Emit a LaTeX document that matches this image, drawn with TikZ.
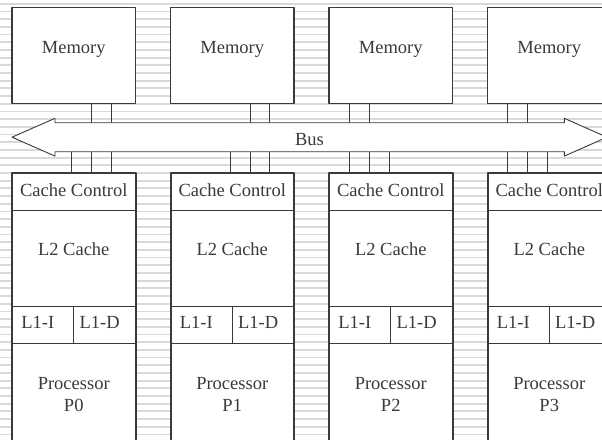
\documentclass[tikz,border=0pt]{standalone}
\usepackage{fontspec}
\setmainfont{Liberation Serif}
\usetikzlibrary{positioning,calc}
\definecolor{stripe}{RGB}{221,216,211}
\definecolor{ink}{RGB}{58,58,58}
\tikzset{
  box/.style={draw=ink,line width=1pt,fill=white,inner sep=0pt,outer sep=0pt},
  lbl/.style={text=ink,font=\fontsize{18.5}{21.7}\selectfont,inner sep=0pt},
  wire/.style={draw=ink,line width=0.9pt}
}
\begin{document}
\begin{tikzpicture}[x=1pt,y=-1pt,line cap=round,line join=round]
  \useasboundingbox (0,0) rectangle (602,439);
  \clip (0,0) rectangle (602,439);
  \fill[white] (0,0) rectangle (602,439);
  \foreach \k in {0,...,56}
    \fill[stripe] (0,{2.9+7.69*\k}) rectangle (602,{4.7+7.69*\k});
  \coordinate (bustop) at (0,122.7);
  \coordinate (busbot) at (0,151.7);
  \foreach \i/\a/\b/\c/\p/\q in {0/59.7/79.7/99/79.7/99,1/59.7/79.7/99/79.7/99,2/20.3/40.3/60.3/20.3/40.3,3/20.3/40.3/60.3/20.3/40.3} {
    \node[box,line width=1.2pt,minimum width=123.5,minimum height=95.8,anchor=north west] (mem\i) at ({12+158.5*\i},7.5) {};
    \node[lbl,anchor=base] at ([yshift=2.1]mem\i.center) {Memory};
    \node[box,minimum width=123.5,minimum height=36.7,anchor=north west] (ctrl\i) at ({12+158.5*\i},173.3) {};
    \node[box,minimum width=123.5,minimum height=96,below=0pt of ctrl\i] (ltwo\i) {};
    \node[box,minimum width=61.75,minimum height=37.3,anchor=north west] (lonei\i) at (ltwo\i.south west) {};
    \node[box,minimum width=61.75,minimum height=37.3,anchor=north east] (loned\i) at (ltwo\i.south east) {};
    \node[box,minimum width=123.5,minimum height=110,anchor=north west] (proc\i) at (lonei\i.south west) {};
    \draw[ink,line width=2pt] (ctrl\i.north west) rectangle (proc\i.south east);
    \node[lbl,anchor=base] at ([yshift=-5]ctrl\i.center) {Cache Control};
    \node[lbl,anchor=base] at ([yshift=2.2]ltwo\i.center) {L2 Cache};
    \node[lbl,anchor=base] at ([xshift=-5,yshift=-3.6]lonei\i.center) {L1-I};
    \node[lbl,anchor=base] at ([xshift=-5,yshift=-3.6]loned\i.center) {L1-D};
    \node[lbl,align=center] at ([yshift=-51.4]proc\i.north) {Processor\\P\i};
    \draw[wire] ($(mem\i.south west)+(\p,0)$) -- ($(mem\i.south west |- bustop)+(\p,0)$);
    \draw[wire] ($(mem\i.south west)+(\q,0)$) -- ($(mem\i.south west |- bustop)+(\q,0)$);
    \foreach \o in {\a,\b,\c}
      \draw[wire] ($(ctrl\i.north west)+(\o,0)$) -- ($(ctrl\i.north west |- busbot)+(\o,0)$);
  }
  \draw[box,line width=0.9pt] (12,137.2) -- (55,118.3) -- (55,122.7) -- (564.3,122.7) -- (564.3,118.3) -- (607,137.2) -- (564.3,156.1) -- (564.3,151.7) -- (55,151.7) -- (55,156.1) -- cycle;
  \node[lbl] (bus) at (309.5,139.5) {Bus};
\end{tikzpicture}
\end{document}
